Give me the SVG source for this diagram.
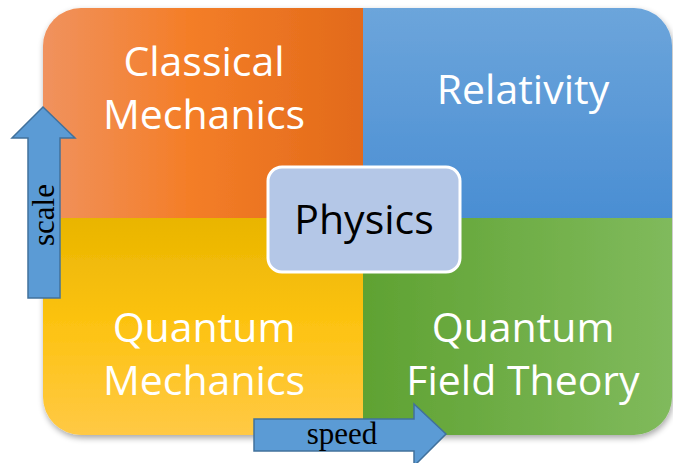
<svg xmlns="http://www.w3.org/2000/svg" width="673" height="463" viewBox="0 0 673 463">
<defs>
<linearGradient id="gOr" x1="0" y1="0" x2="1" y2="0"><stop offset="0" stop-color="#F0925E"/><stop offset="0.45" stop-color="#F47E28"/><stop offset="1" stop-color="#E26A1A"/></linearGradient>
<linearGradient id="gBl" x1="0" y1="0" x2="0" y2="1"><stop offset="0" stop-color="#6CA5DB"/><stop offset="1" stop-color="#4A8ED3"/></linearGradient>
<linearGradient id="gYe" x1="0" y1="0" x2="0" y2="1"><stop offset="0" stop-color="#E9B500"/><stop offset="0.5" stop-color="#FDC312"/><stop offset="1" stop-color="#FFC945"/></linearGradient>
<linearGradient id="gGr" x1="0" y1="0" x2="1" y2="0"><stop offset="0" stop-color="#5FA232"/><stop offset="1" stop-color="#80BA5C"/></linearGradient>
<clipPath id="clip"><rect x="43" y="8" width="629" height="427" rx="38"/></clipPath>
<filter id="sh" x="-10%" y="-10%" width="120%" height="120%"><feGaussianBlur in="SourceAlpha" stdDeviation="3"/><feOffset dx="1" dy="3"/><feComponentTransfer><feFuncA type="linear" slope="0.35"/></feComponentTransfer><feMerge><feMergeNode/><feMergeNode in="SourceGraphic"/></feMerge></filter>
</defs>
<style>
.q{font-family:"Open Sans","Liberation Sans",sans-serif;font-size:41px;fill:#fff;text-anchor:middle}
.arr{fill:#5B9BD5;stroke:#41719C;stroke-width:1.5}
.lab{font-family:"Liberation Serif",serif;font-size:31px;fill:#000;text-anchor:middle}
</style>
<g filter="url(#sh)">
<g clip-path="url(#clip)">
<g id="classical"><rect x="43" y="8" width="320" height="210" fill="url(#gOr)"/></g>
<g id="relativity"><rect x="363" y="8" width="309" height="210" fill="url(#gBl)"/></g>
<g id="qm"><rect x="43" y="218" width="320" height="217" fill="url(#gYe)"/></g>
<g id="qft"><rect x="363" y="218" width="309" height="217" fill="url(#gGr)"/></g>
</g>
</g>
<text class="q" x="204" y="76">Classical</text>
<text class="q" x="204" y="129">Mechanics</text>
<text class="q" x="523" y="104">Relativity</text>
<text class="q" x="204" y="342">Quantum</text>
<text class="q" x="204" y="395">Mechanics</text>
<text class="q" x="523" y="342">Quantum</text>
<text class="q" x="523" y="395">Field Theory</text>
<g id="physics">
<rect x="268" y="167" width="192" height="105" rx="14" fill="#B4C7E7" stroke="#fff" stroke-width="3"/>
<text x="364" y="234" font-family="'Open Sans','Liberation Sans',sans-serif" font-size="41" fill="#000" text-anchor="middle">Physics</text>
</g>
<g id="connectors">
<g id="scale-arrow">
<polygon class="arr" points="28,298 60,298 60,138 75,138 43,107 12,138 28,138"/>
<text class="lab" transform="translate(54,215) rotate(-90)">scale</text>
</g>
<g id="speed-arrow">
<polygon class="arr" points="254,419 414,419 414,404 446,434 414,466 414,451 254,451"/>
<text class="lab" x="342" y="444">speed</text>
</g>
</g>
</svg>
